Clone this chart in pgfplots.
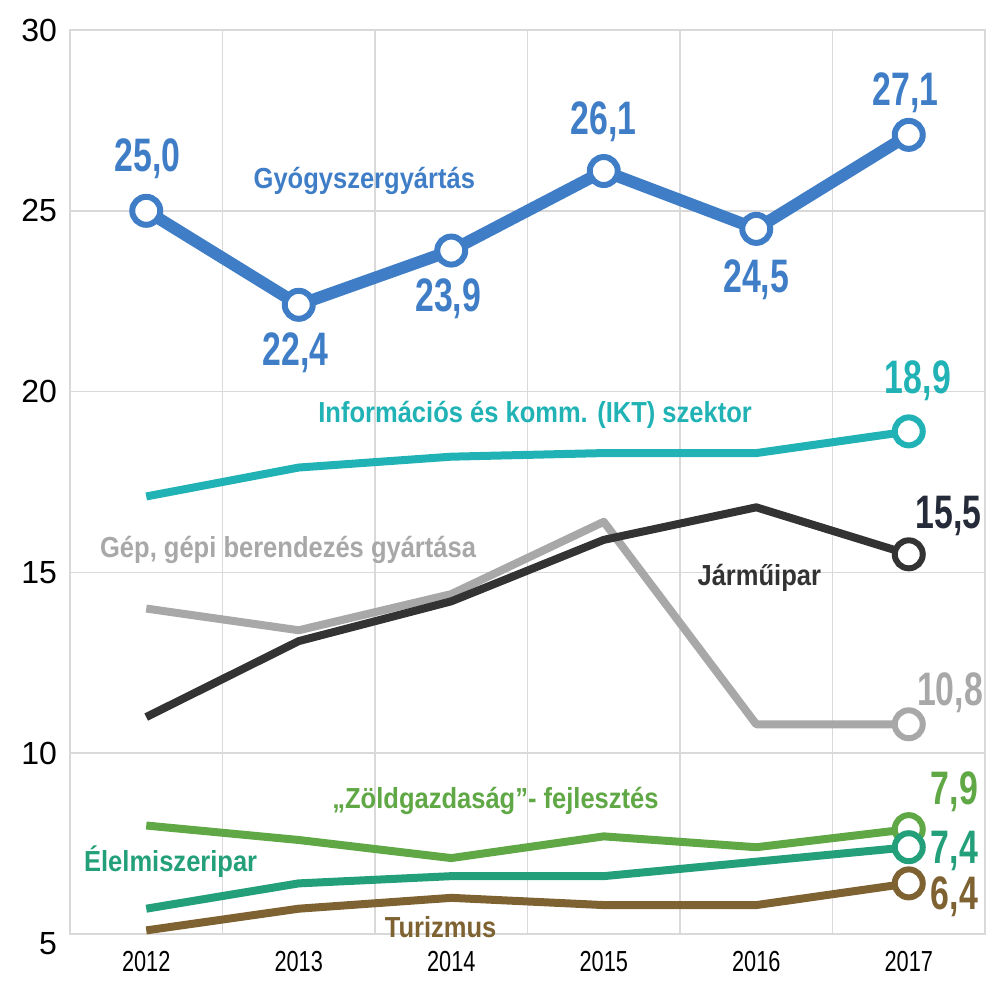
\documentclass[border=0pt]{standalone}
\usepackage{fontspec}
\setmainfont{Liberation Sans}
\newfontfamily\yfont{Liberation Sans}
\newfontfamily\xfont[FakeStretch=0.75]{Liberation Sans}
\newfontfamily\numfont[FakeStretch=0.72]{Liberation Sans}
\newfontfamily\labfont[FakeStretch=0.88]{Liberation Sans}
\usepackage{pgfplots}
\pgfplotsset{compat=1.18}

\definecolor{cblue}{HTML}{3F7EC7}
\definecolor{cteal}{HTML}{20B2B4}
\definecolor{cdark}{HTML}{333333}
\definecolor{cnavy}{HTML}{262B3A}
\definecolor{cgray}{HTML}{A8A8A8}
\definecolor{cgreen}{HTML}{5FA845}
\definecolor{cemer}{HTML}{23A07A}
\definecolor{cbrown}{HTML}{7E6232}
\definecolor{gridc}{HTML}{D9D9D9}

\begin{document}
\begin{tikzpicture}
\begin{axis}[
    scale only axis,
    width=457.5pt, height=452pt,
    xmin=2011.5, xmax=2017.5,
    ymin=5, ymax=30,
    xtick={2012,2013,2014,2015,2016,2017},
    minor xtick={2011.5,2012.5,2013.5,2014.5,2015.5,2016.5,2017.5},
    ytick={10,15,20,25,30},
    extra y ticks={5},
    extra y tick style={yticklabel style={yshift=-5pt}},
    xticklabel style={/pgf/number format/1000 sep={}},
    xminorgrids, ymajorgrids,
    grid style={draw=gridc, line width=0.8pt},
    minor grid style={draw=gridc, line width=0.8pt},
    axis line style={draw=gridc, line width=0.8pt},
    major tick length=0pt, minor tick length=0pt,
    /pgf/number format/assume math mode=true,
    xticklabel style={font=\xfont\fontsize{14.5}{14.5}\selectfont, yshift=-5pt},
    yticklabel style={font=\yfont\fontsize{16}{16}\selectfont, xshift=-3pt},
    clip=false,
    every axis plot/.append style={line join=round},
]
% Gyógyszergyártás
\addplot[cblue, line width=6pt, mark=*, mark size=7pt,
  mark options={fill=white, draw=cblue, line width=3pt}]
  coordinates {(2012,25.0)(2013,22.4)(2014,23.9)(2015,26.1)(2016,24.5)(2017,27.1)};
% IKT
\addplot[cteal, line width=4pt, mark=*, mark indices={6}, mark size=7pt,
  mark options={fill=white, draw=cteal, line width=3pt}]
  coordinates {(2012,17.1)(2013,17.9)(2014,18.2)(2015,18.3)(2016,18.3)(2017,18.9)};
% Gép
\addplot[cgray, line width=4pt, mark=*, mark indices={6}, mark size=7pt,
  mark options={fill=white, draw=cgray, line width=3pt}]
  coordinates {(2012,14.0)(2013,13.4)(2014,14.4)(2015,16.4)(2016,10.8)(2017,10.8)};
% Járműipar
\addplot[cdark, line width=4pt, mark=*, mark indices={6}, mark size=7pt,
  mark options={fill=white, draw=cdark, line width=3pt}]
  coordinates {(2012,11.0)(2013,13.1)(2014,14.2)(2015,15.9)(2016,16.8)(2017,15.5)};
% Zöldgazdaság
\addplot[cgreen, line width=4pt, mark=*, mark indices={6}, mark size=7pt,
  mark options={fill=white, draw=cgreen, line width=3pt}]
  coordinates {(2012,8.0)(2013,7.6)(2014,7.1)(2015,7.7)(2016,7.4)(2017,7.9)};
% Élelmiszeripar
\addplot[cemer, line width=4pt, mark=*, mark indices={6}, mark size=7pt,
  mark options={fill=white, draw=cemer, line width=3pt}]
  coordinates {(2012,5.7)(2013,6.4)(2014,6.6)(2015,6.6)(2016,7.0)(2017,7.4)};
% Turizmus
\addplot[cbrown, line width=4pt, mark=*, mark indices={6}, mark size=7pt,
  mark options={fill=white, draw=cbrown, line width=3pt}]
  coordinates {(2012,5.1)(2013,5.7)(2014,6.0)(2015,5.8)(2016,5.8)(2017,6.4)};

% value labels
\begin{scope}[every node/.style={font=\numfont\bfseries\fontsize{23.5}{23.5}\selectfont}]
\node[cblue] at (axis cs:2012.01,26.43) {25,0};
\node[cblue] at (axis cs:2012.98,21.07) {22,4};
\node[cblue] at (axis cs:2013.98,22.58) {23,9};
\node[cblue] at (axis cs:2015.0,27.45) {26,1};
\node[cblue] at (axis cs:2016.0,23.08) {24,5};
\node[cblue] at (axis cs:2016.98,28.27) {27,1};
\node[cteal] at (axis cs:2017.06,20.3) {18,9};
\node[cnavy] at (axis cs:2017.26,16.57) {15,5};
\node[cgray] at (axis cs:2017.27,11.68) {10,8};
\node[cgreen] at (axis cs:2017.3,8.93) {7,9};
\node[cemer] at (axis cs:2017.3,7.31) {7,4};
\node[cbrown] at (axis cs:2017.3,6.02) {6,4};
\end{scope}

% series labels
\begin{scope}[every node/.style={font=\labfont\bfseries\fontsize{14.5}{14.5}\selectfont}]
\node[cblue] at (axis cs:2013.43,25.82) {Gyógyszergyártás};
\node[cteal] at (axis cs:2014.55,19.37) {Információs és komm. (IKT) szektor};
\node[cgray] at (axis cs:2012.93,15.63) {Gép, gépi berendezés gyártása};
\node[cdark] at (axis cs:2016.02,14.84) {Járműipar};
\node[cgreen] at (axis cs:2014.29,8.68) {„Zöldgazdaság”- fejlesztés};
\node[cemer] at (axis cs:2012.16,7.0) {Élelmiszeripar};
\node[cbrown] at (axis cs:2013.93,5.19) {Turizmus};
\end{scope}
\end{axis}
\pgfresetboundingbox
\path[use as bounding box] ([xshift=-35pt,yshift=-23pt]current axis.south west)
  rectangle ([xshift=1.5pt,yshift=15pt]current axis.north east);
\end{tikzpicture}
\end{document}
